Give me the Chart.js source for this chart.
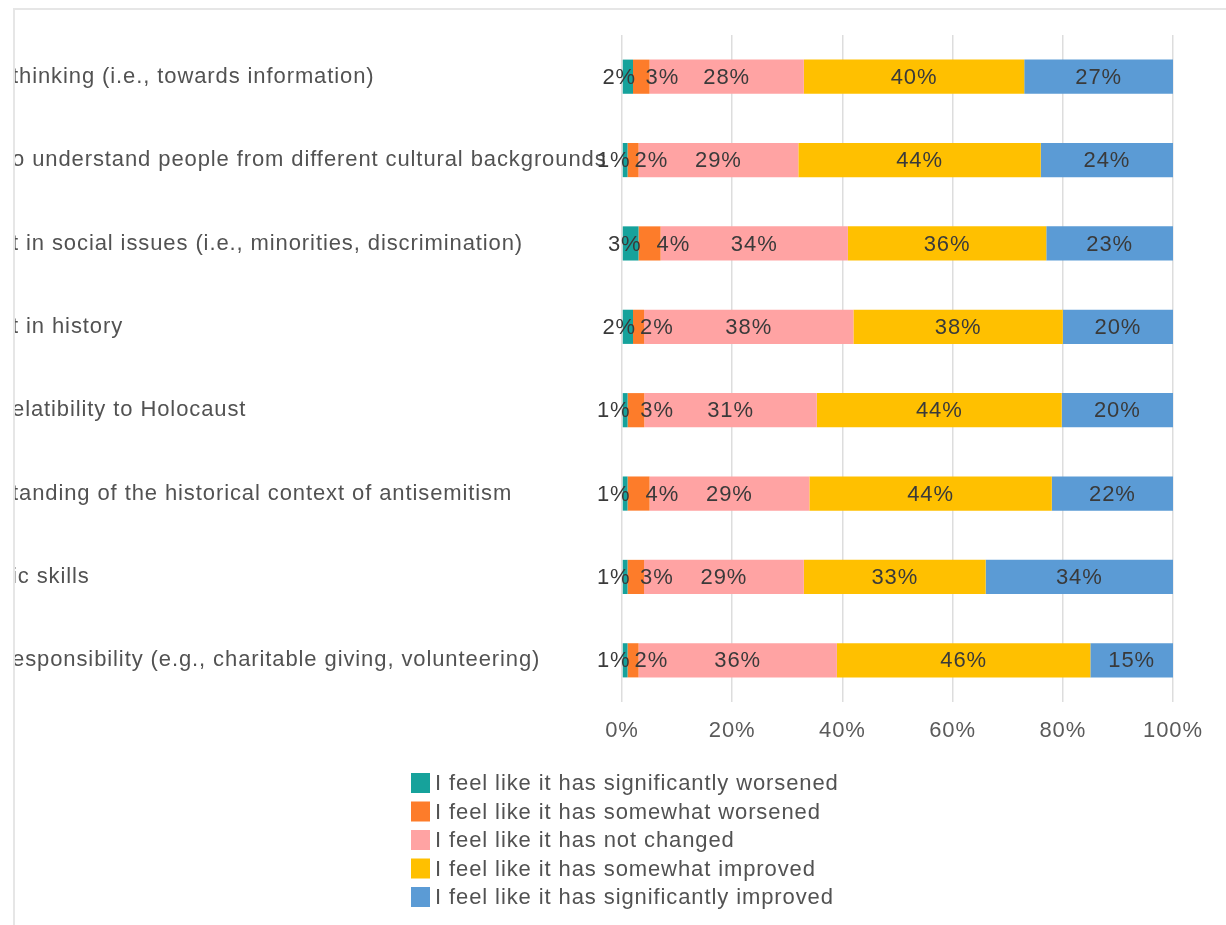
<!DOCTYPE html>
<html>
<head>
<meta charset="utf-8">
<title>Perceived change by area</title>
<script src="https://cdn.jsdelivr.net/npm/chart.js@4.4.1/dist/chart.umd.min.js"></script>
<style>
  html, body { margin: 0; padding: 0; background: #ffffff; }
  #wrap { width: 1226px; height: 925px; }
  canvas { display: block; }
</style>
</head>
<body>
<div id="wrap"><canvas id="chart" width="1226" height="925"></canvas></div>
<script>
// Survey areas (one bar each, top to bottom)
const categories = [
  'thinking (i.e., towards information)',
  'o understand people from different cultural backgrounds',
  't in social issues (i.e., minorities, discrimination)',
  't in history',
  'elatibility to Holocaust',
  'tanding of the historical context of antisemitism',
  'ic skills',
  'esponsibility (e.g., charitable giving, volunteering)'
];

// Answer options, in stacking order
const seriesNames = [
  'I feel like it has significantly worsened',
  'I feel like it has somewhat worsened',
  'I feel like it has not changed',
  'I feel like it has somewhat improved',
  'I feel like it has significantly improved'
];

// Share of respondents (%) per answer, per area
const significantlyWorsened = [2, 1, 3, 2, 1, 1, 1, 1];
const somewhatWorsened      = [3, 2, 4, 2, 3, 4, 3, 2];
const notChanged            = [28, 29, 34, 38, 31, 29, 29, 36];
const somewhatImproved      = [40, 44, 36, 38, 44, 44, 33, 46];
const significantlyImproved = [27, 24, 23, 20, 20, 22, 34, 15];

// Axis ticks (%)
const xTicks = [0, 20, 40, 60, 80, 100];

const seriesValues = [significantlyWorsened, somewhatWorsened, notChanged, somewhatImproved, significantlyImproved];
const seriesColors = ['#16a29b', '#fd7c2a', '#ffa3a3', '#ffc000', '#5b9bd5'];

// 100% stacked: each row is scaled to its own total
const rowTotals = categories.map((_, r) => seriesValues.reduce((s, arr) => s + arr[r], 0));

const FONT = "'Liberation Sans', Arial, sans-serif";
const SIZE = 22;
const SPACING = '0.9px';
Chart.defaults.font.family = FONT;
Chart.defaults.font.size = SIZE;

const datasets = seriesNames.map((name, i) => ({
  label: name,
  rawValues: seriesValues[i],
  data: seriesValues[i].map((v, r) => v / rowTotals[r] * 100),
  backgroundColor: seriesColors[i],
  borderWidth: 0,
  categoryPercentage: 1,
  barPercentage: 0.41
}));

// Letter spacing for all canvas text
const spacingPlugin = {
  id: 'spacing',
  beforeDraw(chart) { chart.ctx.letterSpacing = SPACING; }
};

// Value labels inside each segment
const valueLabels = {
  id: 'valueLabels',
  afterDatasetsDraw(chart) {
    const ctx = chart.ctx;
    ctx.save();
    ctx.letterSpacing = SPACING;
    ctx.font = SIZE + 'px ' + FONT;
    ctx.fillStyle = '#3a3a3a';
    ctx.textBaseline = 'middle';
    chart.data.datasets.forEach((ds, i) => {
      const meta = chart.getDatasetMeta(i);
      meta.data.forEach((bar, r) => {
        const text = ds.rawValues[r] + '%';
        const x0 = Math.min(bar.base, bar.x), x1 = Math.max(bar.base, bar.x);
        const w = ctx.measureText(text).width;
        let x = (x0 + x1) / 2, align = 'center';
        if (w > x1 - x0 - 2) {
          if (i === 0) { align = 'right'; x = x1 + 3; }
          else if (i === 1) { align = 'left'; x = x1 - 4; }
        }
        ctx.textAlign = align;
        ctx.fillText(text, x, bar.y + 1);
      });
    });
    ctx.restore();
  }
};

// Vertical legend below the axis, plus the thin outer frame
const legendAndFrame = {
  id: 'legendAndFrame',
  afterDraw(chart) {
    const ctx = chart.ctx;
    ctx.save();
    // frame
    ctx.fillStyle = '#ffffff';
    ctx.fillRect(0, 0, 13, chart.height);
    ctx.fillRect(0, 0, chart.width, 8);
    ctx.strokeStyle = '#e6e6e6';
    ctx.lineWidth = 2;
    ctx.beginPath();
    ctx.moveTo(14, chart.height);
    ctx.lineTo(14, 9);
    ctx.lineTo(chart.width, 9);
    ctx.stroke();
    // legend
    ctx.letterSpacing = SPACING;
    ctx.font = SIZE + 'px ' + FONT;
    ctx.textBaseline = 'middle';
    ctx.textAlign = 'left';
    const left = 411, top = 783, step = 28.5;
    chart.data.datasets.forEach((ds, i) => {
      const cy = top + i * step;
      ctx.fillStyle = ds.backgroundColor;
      ctx.fillRect(left, cy - 10, 19, 20);
      ctx.fillStyle = '#525252';
      ctx.fillText(ds.label, left + 24, cy + 1);
    });
    ctx.restore();
  }
};

new Chart(document.getElementById('chart'), {
  type: 'bar',
  data: { labels: categories, datasets },
  options: {
    indexAxis: 'y',
    responsive: false,
    animation: false,
    devicePixelRatio: 1,
    layout: { padding: { left: 12, top: 35, right: 53, bottom: 183 } },
    plugins: {
      legend: { display: false },
      tooltip: { enabled: false }
    },
    scales: {
      x: {
        stacked: true,
        min: xTicks[0],
        max: xTicks[xTicks.length - 1],
        afterBuildTicks(scale) { scale.ticks = xTicks.map(v => ({ value: v })); },
        afterFit(scale) { scale.height = 40; },
        ticks: {
          callback: v => v + '%',
          color: '#5a5a5a',
          padding: 16,
          maxRotation: 0,
          font: { size: SIZE }
        },
        grid: { color: '#dddddd', lineWidth: 1.5, drawTicks: false },
        border: { display: false }
      },
      y: {
        stacked: true,
        afterFit(scale) { scale.width = 610; },
        ticks: {
          crossAlign: 'far',
          color: '#525252',
          padding: 0,
          autoSkip: false,
          font: { size: SIZE }
        },
        grid: { display: false },
        border: { display: false }
      }
    }
  },
  plugins: [spacingPlugin, valueLabels, legendAndFrame]
});
</script>
</body>
</html>
